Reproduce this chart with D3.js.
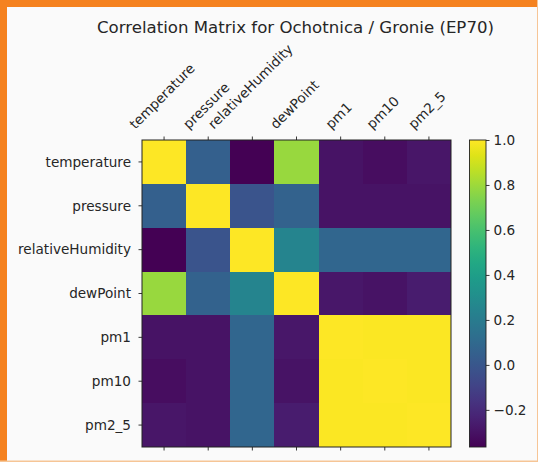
<!DOCTYPE html>
<html>
<head>
<meta charset="utf-8">
<script src="https://cdn.jsdelivr.net/npm/d3@7"></script>
<style>
    body { margin: 0; background: #fafafa; }
    text { font-family: "DejaVu Sans", sans-serif; fill: #262626; }
</style>
</head>
<body>
<div id="corr-chart"></div>
<script>

// variable names (rows and columns share them)
var labels = ["temperature", "pressure", "relativeHumidity", "dewPoint", "pm1", "pm10", "pm2_5"];

// correlation rows
var rowTemperature = [1.00, 0.05, -0.365, 0.79, -0.30, -0.32, -0.29];
var rowPressure    = [0.05, 1.00, -0.01, 0.06, -0.30, -0.30, -0.30];
var rowHumidity    = [-0.365, -0.01, 1.00, 0.25, 0.08, 0.08, 0.08];
var rowDewPoint    = [0.79, 0.06, 0.25, 1.00, -0.28, -0.30, -0.26];
var rowPm1         = [-0.30, -0.30, 0.08, -0.28, 1.00, 0.99, 0.99];
var rowPm10        = [-0.32, -0.30, 0.08, -0.30, 0.99, 1.00, 0.99];
var rowPm25        = [-0.29, -0.30, 0.08, -0.26, 0.99, 0.99, 1.00];

var matrixRows = [rowTemperature, rowPressure, rowHumidity, rowDewPoint, rowPm1, rowPm10, rowPm25];

var colorbarTicks = [-0.2, 0.0, 0.2, 0.4, 0.6, 0.8, 1.0];

var chartTitle = "Correlation Matrix for Ochotnica / Gronie (EP70)";


/*
 *  CorrMatrix - Object constructor function
 */

CorrMatrix = function(_parentElement) {
    this.parentElement = _parentElement;
    this.initVis();
};


CorrMatrix.prototype.initVis = function() {
    var vis = this;

    vis.width = 538;
    vis.height = 462;

    vis.box = { left: 142, top: 140, right: 451, bottom: 447 };
    vis.bar = { left: 469.5, right: 486 };

    vis.svg = d3.select("#" + vis.parentElement).append("svg")
        .attr("width", vis.width)
        .attr("height", vis.height);

    vis.svg.append("rect")
        .attr("width", vis.width)
        .attr("height", vis.height)
        .attr("fill", "#fafafa");

    vis.x = d3.scaleBand().domain(labels).range([vis.box.left, vis.box.right]);
    vis.y = d3.scaleBand().domain(labels).range([vis.box.top, vis.box.bottom]);

    var all = d3.merge(matrixRows);
    vis.vmin = d3.min(all);
    vis.vmax = d3.max(all);
    vis.color = d3.scaleSequential(d3.interpolateViridis).domain([vis.vmin, vis.vmax]);

    vis.wrangleData();
};


CorrMatrix.prototype.wrangleData = function() {
    var vis = this;

    vis.cells = [];
    matrixRows.forEach(function(row, i) {
        row.forEach(function(v, j) {
            vis.cells.push({ row: labels[i], col: labels[j], value: v });
        });
    });

    vis.updateVis();
};


CorrMatrix.prototype.updateVis = function() {
    var vis = this;
    var fs = 13.6;

    // heatmap cells
    vis.svg.append("g").selectAll("rect")
        .data(vis.cells)
        .enter().append("rect")
        .attr("x", function(d) { return vis.x(d.col); })
        .attr("y", function(d) { return vis.y(d.row); })
        .attr("width", vis.x.bandwidth())
        .attr("height", vis.y.bandwidth())
        .attr("shape-rendering", "crispEdges")
        .attr("fill", function(d) { return vis.color(d.value); });

    vis.svg.append("rect")
        .attr("x", vis.box.left)
        .attr("y", vis.box.top)
        .attr("width", vis.box.right - vis.box.left)
        .attr("height", vis.box.bottom - vis.box.top)
        .attr("fill", "none")
        .attr("stroke", "#222")
        .attr("stroke-width", 1);

    // ticks on all sides except right, labels on top and left
    var tickG = vis.svg.append("g").attr("stroke", "#222").attr("stroke-width", 0.9);
    labels.forEach(function(l) {
        var cx = vis.x(l) + vis.x.bandwidth() / 2;
        var cy = vis.y(l) + vis.y.bandwidth() / 2;
        tickG.append("line").attr("x1", cx).attr("x2", cx).attr("y1", vis.box.top).attr("y2", vis.box.top - 3.5);
        tickG.append("line").attr("x1", cx).attr("x2", cx).attr("y1", vis.box.bottom).attr("y2", vis.box.bottom + 3.5);
        tickG.append("line").attr("x1", vis.box.left).attr("x2", vis.box.left - 3.5).attr("y1", cy).attr("y2", cy);
    });

    vis.svg.append("g").selectAll("text")
        .data(labels)
        .enter().append("text")
        .attr("x", vis.box.left - 11)
        .attr("y", function(d) { return vis.y(d) + vis.y.bandwidth() / 2; })
        .attr("dy", "0.35em")
        .attr("text-anchor", "end")
        .style("font-size", fs + "px")
        .text(function(d) { return d; });

    // rotated top labels: box of the rotated text centred on the tick
    var topLabels = vis.svg.append("g").selectAll("text")
        .data(labels)
        .enter().append("text")
        .attr("text-anchor", "middle")
        .attr("dy", "0.35em")
        .style("font-size", fs + "px")
        .text(function(d) { return d; });

    topLabels.each(function(d) {
        var w = this.getComputedTextLength();
        var side = (w + fs * 1.16) * Math.SQRT1_2;
        var cx = vis.x(d) + vis.x.bandwidth() / 2 - 2;
        var cy = vis.box.top - 8 - side / 2;
        d3.select(this).attr("transform", "translate(" + cx + "," + cy + ") rotate(-45)");
    });

    // title
    vis.svg.append("text")
        .attr("x", (vis.box.left + vis.box.right) / 2 - 1)
        .attr("y", 33)
        .attr("text-anchor", "middle")
        .style("font-size", "16.6px")
        .text(chartTitle);

    // colorbar
    var grad = vis.svg.append("defs").append("linearGradient")
        .attr("id", "viridis-grad")
        .attr("x1", 0).attr("y1", 1).attr("x2", 0).attr("y2", 0);
    d3.range(0, 1.0001, 0.05).forEach(function(t) {
        grad.append("stop")
            .attr("offset", t)
            .attr("stop-color", d3.interpolateViridis(t));
    });

    vis.cbScale = d3.scaleLinear().domain([vis.vmin, vis.vmax]).range([vis.box.bottom, vis.box.top]);

    vis.svg.append("rect")
        .attr("x", vis.bar.left)
        .attr("y", vis.box.top)
        .attr("width", vis.bar.right - vis.bar.left)
        .attr("height", vis.box.bottom - vis.box.top)
        .attr("fill", "url(#viridis-grad)")
        .attr("stroke", "#222")
        .attr("stroke-width", 0.9);

    var cbAxis = d3.axisRight(vis.cbScale)
        .tickValues(colorbarTicks)
        .tickFormat(d3.format(".1f"))
        .tickSize(3.5)
        .tickSizeOuter(0)
        .tickPadding(4);

    var cbG = vis.svg.append("g")
        .attr("transform", "translate(" + vis.bar.right + ",0)")
        .call(cbAxis);
    cbG.select(".domain").remove();
    cbG.selectAll("line").attr("stroke", "#222").attr("stroke-width", 0.9);
    cbG.selectAll("text")
        .style("font-size", fs + "px")
        .style("font-family", "DejaVu Sans")
        .attr("fill", "#262626");

    // orange frame of the screenshot
    vis.svg.append("rect").attr("x", 0).attr("y", 0).attr("width", 7).attr("height", vis.height).attr("fill", "#f5821f");
    vis.svg.append("rect").attr("x", 0).attr("y", 0).attr("width", vis.width).attr("height", 7).attr("fill", "#f5821f");
    vis.svg.append("rect").attr("x", vis.width - 1).attr("y", 0).attr("width", 1).attr("height", vis.height).attr("fill", "#f6c596");
    vis.svg.append("rect").attr("x", 0).attr("y", vis.height - 1.5).attr("width", vis.width).attr("height", 1.5).attr("fill", "#f6c596");
};

var corrChart = new CorrMatrix("corr-chart");

</script>
</body>
</html>
